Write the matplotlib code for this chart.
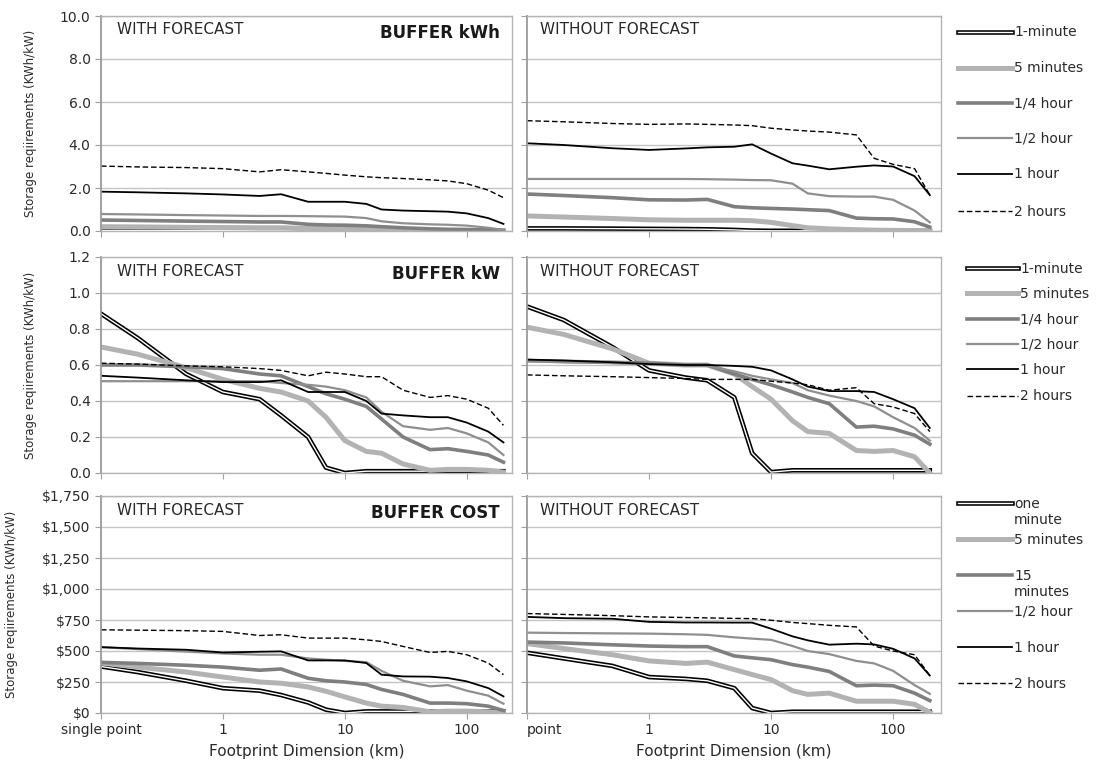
import matplotlib
matplotlib.use("Agg")
import matplotlib.pyplot as plt
import matplotlib.patheffects as pe
from matplotlib.lines import Line2D
from matplotlib.ticker import FuncFormatter

plt.rcParams['font.family'] = ['DejaVu Sans']

# footprint dimension (km); 0.1 stands for "single point"
dims = [0.1, 0.2, 0.5, 1, 2, 3, 5, 7, 10, 15, 20, 30, 50, 70, 100, 150, 200]
series = ["1-minute", "5 minutes", "1/4 hour", "1/2 hour", "1 hour", "2 hours"]

# BUFFER kWh
kwh_with = {
    "1-minute": [0.03, 0.03, 0.02, 0.02, 0.01, 0.01, 0.0, 0.0, 0.0, 0.0, 0.0, 0.0, 0.0, 0.0, 0.0, 0.0, 0.0],
    "5 minutes": [0.2, 0.19, 0.17, 0.16, 0.15, 0.15, 0.12, 0.11, 0.1, 0.08, 0.06, 0.04, 0.03, 0.02, 0.02, 0.01, 0.0],
    "1/4 hour": [0.51, 0.49, 0.46, 0.44, 0.42, 0.42, 0.31, 0.28, 0.27, 0.24, 0.2, 0.15, 0.1, 0.08, 0.07, 0.05, 0.02],
    "1/2 hour": [0.79, 0.77, 0.74, 0.72, 0.7, 0.7, 0.69, 0.68, 0.67, 0.6, 0.45, 0.36, 0.31, 0.29, 0.25, 0.15, 0.05],
    "1 hour": [1.83, 1.8, 1.75, 1.7, 1.63, 1.71, 1.36, 1.36, 1.36, 1.26, 1.0, 0.95, 0.92, 0.9, 0.82, 0.6, 0.33],
    "2 hours": [3.02, 2.98, 2.95, 2.9, 2.75, 2.85, 2.75, 2.68, 2.6, 2.52, 2.48, 2.44, 2.38, 2.33, 2.2, 1.9, 1.55],
}
kwh_without = {
    "1-minute": [0.12, 0.12, 0.11, 0.1, 0.09, 0.08, 0.05, 0.02, 0.01, 0.01, 0.01, 0.01, 0.0, 0.0, 0.0, 0.0, 0.0],
    "5 minutes": [0.7, 0.65, 0.58, 0.52, 0.5, 0.5, 0.5, 0.48, 0.4, 0.25, 0.15, 0.1, 0.06, 0.04, 0.03, 0.02, 0.0],
    "1/4 hour": [1.72, 1.65, 1.55, 1.45, 1.44, 1.47, 1.13, 1.08, 1.05, 1.02, 0.99, 0.95, 0.6, 0.57, 0.56, 0.43, 0.18],
    "1/2 hour": [2.42, 2.42, 2.42, 2.42, 2.42, 2.41, 2.39, 2.37, 2.36, 2.2, 1.75, 1.62, 1.6, 1.6, 1.45, 0.95, 0.4],
    "1 hour": [4.08, 4.0, 3.85, 3.77, 3.84, 3.89, 3.92, 4.03, 3.6, 3.15, 3.04, 2.87, 2.99, 3.05, 3.0, 2.55, 1.67],
    "2 hours": [5.13, 5.08, 5.0, 4.96, 4.98, 4.96, 4.93, 4.9, 4.78, 4.7, 4.65, 4.6, 4.47, 3.38, 3.1, 2.9, 1.67],
}

# BUFFER kW
kw_with = {
    "1-minute": [0.885, 0.75, 0.55, 0.45, 0.41, 0.32, 0.2, 0.03, 0.0, 0.01, 0.01, 0.01, 0.01, 0.01, 0.01, 0.01, 0.01],
    "5 minutes": [0.7, 0.66, 0.585, 0.52, 0.47, 0.45, 0.4, 0.31, 0.18, 0.12, 0.11, 0.05, 0.015, 0.02, 0.02, 0.015, 0.005],
    "1/4 hour": [0.6, 0.6, 0.59, 0.58, 0.55, 0.54, 0.48, 0.44, 0.41, 0.37, 0.3, 0.2, 0.13, 0.135, 0.12, 0.1, 0.06],
    "1/2 hour": [0.51, 0.51, 0.51, 0.51, 0.51, 0.5, 0.49, 0.48, 0.46, 0.42, 0.34, 0.26, 0.24, 0.25, 0.22, 0.17, 0.1],
    "1 hour": [0.54, 0.53, 0.515, 0.505, 0.505, 0.515, 0.45, 0.45, 0.45, 0.4, 0.33, 0.32, 0.31, 0.31, 0.28, 0.23, 0.17],
    "2 hours": [0.61, 0.605, 0.595, 0.59, 0.58, 0.57, 0.54, 0.56, 0.55, 0.535, 0.535, 0.46, 0.42, 0.43, 0.41, 0.36, 0.265],
}
kw_without = {
    "1-minute": [0.925, 0.85, 0.7, 0.57, 0.53, 0.515, 0.42, 0.11, 0.005, 0.015, 0.015, 0.015, 0.015, 0.015, 0.015, 0.015, 0.015],
    "5 minutes": [0.81, 0.77, 0.69, 0.61, 0.6, 0.6, 0.55, 0.48, 0.41, 0.29, 0.23, 0.22, 0.125, 0.12, 0.125, 0.09, 0.0],
    "1/4 hour": [0.625, 0.62, 0.615, 0.61, 0.6, 0.6, 0.55, 0.52, 0.49, 0.45, 0.42, 0.385, 0.255, 0.26, 0.245, 0.21, 0.16],
    "1/2 hour": [0.62, 0.615, 0.61, 0.605, 0.6, 0.595, 0.565, 0.54, 0.52, 0.5, 0.46, 0.43, 0.4, 0.37, 0.31, 0.25, 0.18],
    "1 hour": [0.63, 0.625, 0.615, 0.605, 0.6, 0.6, 0.595, 0.59, 0.57, 0.52, 0.48, 0.455, 0.455, 0.45, 0.41, 0.36, 0.25],
    "2 hours": [0.545, 0.54, 0.535, 0.53, 0.525, 0.52, 0.52, 0.52, 0.51, 0.5, 0.49, 0.46, 0.474, 0.385, 0.367, 0.33, 0.23],
}

# BUFFER COST ($/kW)
cost_with = {
    "1-minute": [375, 330, 260, 200, 180, 145, 85, 27, 0, 13, 13, 13, 13, 13, 13, 13, 13],
    "5 minutes": [403, 370, 330, 290, 250, 240, 210, 175, 130, 80, 55, 45, 10, 15, 15, 10, 5],
    "1/4 hour": [408, 400, 385, 370, 345, 355, 280, 260, 250, 230, 190, 150, 80, 80, 75, 55, 20],
    "1/2 hour": [531, 515, 495, 480, 470, 470, 440, 430, 420, 410, 340, 260, 215, 225, 180, 140, 75],
    "1 hour": [531, 520, 510, 488, 494, 497, 424, 424, 424, 403, 309, 295, 293, 282, 255, 201, 134],
    "2 hours": [671, 668, 664, 658, 625, 631, 604, 604, 604, 590, 577, 537, 488, 497, 470, 403, 309],
}
cost_without = {
    "1-minute": [486, 440, 380, 290, 275, 260, 200, 40, 0, 10, 10, 10, 10, 10, 10, 10, 10],
    "5 minutes": [560, 520, 470, 420, 400, 410, 350, 310, 270, 180, 150, 160, 95, 95, 95, 70, 5],
    "1/4 hour": [572, 565, 550, 540, 535, 535, 460, 445, 430, 390, 370, 335, 220, 225, 220, 160, 100],
    "1/2 hour": [648, 645, 642, 640, 635, 630, 610, 600, 590, 540, 500, 475, 420, 400, 340, 225, 155],
    "1 hour": [775, 765, 760, 735, 730, 730, 729, 729, 680, 618, 586, 551, 559, 553, 518, 440, 302],
    "2 hours": [802, 795, 785, 775, 770, 767, 763, 761, 748, 730, 721, 707, 694, 540, 500, 470, 302],
}

styles = {
    "1-minute": dict(color="white", lw=1.0,
                     path_effects=[pe.Stroke(linewidth=3.3, foreground="black"), pe.Normal()]),
    "5 minutes": dict(color="#b3b3b3", lw=3.6),
    "1/4 hour": dict(color="#7f7f7f", lw=2.6),
    "1/2 hour": dict(color="#8f8f8f", lw=1.6),
    "1 hour": dict(color="black", lw=1.3),
    "2 hours": dict(color="black", lw=1.0, ls=(0, (4, 2))),
}

W, H = 1101, 763
fig = plt.figure(figsize=(W / 100, H / 100), dpi=100)


def px_axes(x0, x1, y0, y1):
    return fig.add_axes([x0 / W, 1 - y1 / H, (x1 - x0) / W, (y1 - y0) / H])


rows = [(16, 231), (257, 473), (496, 713)]
cols = [(101, 512, 235), (527, 941, 247)]
panels = [(kwh_with, kwh_without), (kw_with, kw_without), (cost_with, cost_without)]
ylims = [(0, 10, 2.0), (0, 1.2, 0.2), (0, 1750, 250)]
tags = ["BUFFER kWh", "BUFFER kW", "BUFFER COST"]
ylabel_x = [37, 37, 18]
txt = "#2a2a2a"

for r, (y0, y1) in enumerate(rows):
    for c, (x0, x1, xmax) in enumerate(cols):
        ax = px_axes(x0, x1, y0, y1)
        data = panels[r][c]
        for s in series:
            ax.plot(dims, data[s], **styles[s])
        ax.set_xscale("log")
        ax.set_xlim(0.1, xmax)
        lo, hi, step = ylims[r]
        ax.set_ylim(lo, hi)
        ticks = [lo + i * step for i in range(int(round((hi - lo) / step)) + 1)]
        ax.set_yticks(ticks)
        ax.yaxis.grid(True, color="#c4c4c4", lw=1.0)
        ax.set_axisbelow(True)
        for sp in ax.spines.values():
            sp.set_color("#b4b4b4")
            sp.set_linewidth(1.0)
        ax.spines["left"].set_color("#9a9a9a")
        ax.spines["left"].set_linewidth(1.3)
        ax.set_xticks([0.1, 1, 10, 100])
        ax.xaxis.set_minor_locator(plt.NullLocator())
        ax.tick_params(axis="both", direction="out", length=4, color="#a0a0a0",
                       labelsize=10, labelcolor=txt)
        if r == 2:
            first = "single point" if c == 0 else "point"
            ax.set_xticklabels([first, "1", "10", "100"])
            if c == 1:
                ax.get_xticklabels()[0].set_horizontalalignment("left")
            ax.set_xlabel("Footprint Dimension (km)", fontsize=11, color=txt, labelpad=5)
        else:
            ax.set_xticklabels([])
        if c == 0:
            if r == 2:
                ax.yaxis.set_major_formatter(FuncFormatter(lambda v, p: f"${v:,.0f}"))
            else:
                ax.yaxis.set_major_formatter(FuncFormatter(lambda v, p: f"{v:.1f}"))
            ax.set_ylabel("Storage reqiirements (KWh/kW)", fontsize=8.5, color=txt)
            ax.yaxis.set_label_coords((ylabel_x[r] - x0) / (x1 - x0), 0.5)
            ax.text(0.039, 0.935, "WITH FORECAST", transform=ax.transAxes, fontsize=11,
                    va="center", ha="left", color=txt)
            ax.text(0.97, 0.92, tags[r], transform=ax.transAxes, fontsize=12,
                    fontweight="bold", va="center", ha="right", color="#1a1a1a")
        else:
            ax.set_yticklabels([])
            ax.text(0.031, 0.935, "WITHOUT FORECAST", transform=ax.transAxes, fontsize=11,
                    va="center", ha="left", color=txt)

# keys at the right of each row
key_labels = [
    ["1-minute", "5 minutes", "1/4 hour", "1/2 hour", "1 hour", "2 hours"],
    ["1-minute", "5 minutes", "1/4 hour", "1/2 hour", "1 hour", "2 hours"],
    ["one\nminute", "5 minutes", "15\nminutes", "1/2 hour", "1 hour", "2 hours"],
]
key_y = [[32, 68, 103, 138, 174, 211],
         [268, 293, 319, 344, 369, 396],
         [503, 539, 575, 611, 647, 683]]
key_x = [(958, 1012), (967, 1018), (958, 1012)]

for r in range(3):
    xa, xb = key_x[r]
    for s, lab, y in zip(series, key_labels[r], key_y[r]):
        fig.add_artist(Line2D([xa / W, xb / W], [1 - y / H, 1 - y / H],
                              transform=fig.transFigure, **styles[s]))
        for i, part in enumerate(lab.split("\n")):
            fig.text((xb + 2) / W, 1 - (y + 4.5 + 17 * i) / H, part, fontsize=10,
                     va="baseline", ha="left", color=txt)

fig.savefig("out.png", dpi=100)
